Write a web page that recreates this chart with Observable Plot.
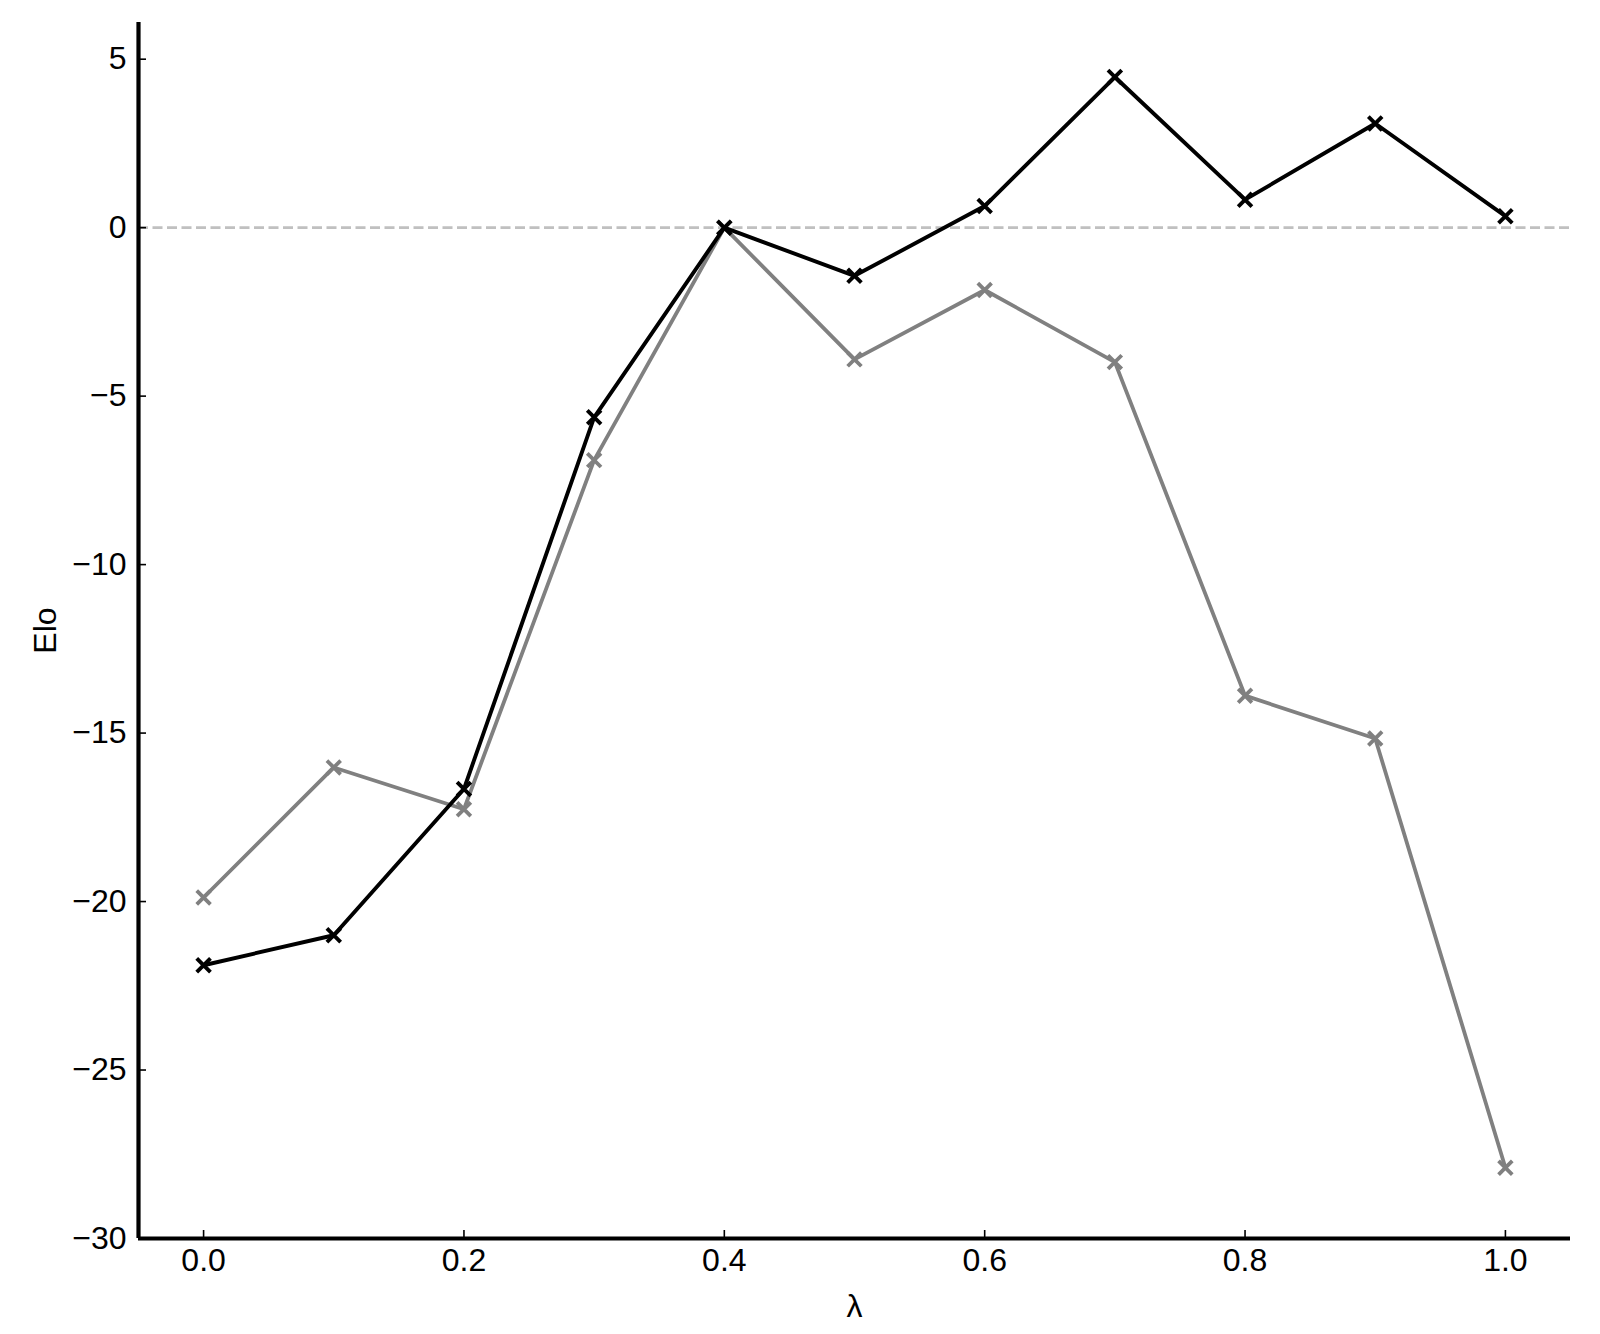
<!DOCTYPE html>
<html>
<head>
<meta charset="utf-8">
<script src="https://cdn.jsdelivr.net/npm/d3@7"></script>
<script src="https://cdn.jsdelivr.net/npm/@observablehq/plot@0.6"></script>
<style>
  html, body { margin: 0; padding: 0; background: #fff; }
</style>
</head>
<body>
<div id="chart"></div>
<script>
// λ values (x)
const lambdas = [0.0, 0.1, 0.2, 0.3, 0.4, 0.5, 0.6, 0.7, 0.8, 0.9, 1.0];
// black series
const seriesBlack = [-21.89, -21.0, -16.66, -5.63, 0.0, -1.43, 0.64, 4.47, 0.83, 3.09, 0.34];
// gray series
const seriesGray = [-19.88, -16.02, -17.26, -6.9, 0.0, -3.91, -1.85, -3.99, -13.89, -15.16, -27.9];

const xTicks = [0.0, 0.2, 0.4, 0.6, 0.8, 1.0];
const yTicks = [-30, -25, -20, -15, -10, -5, 0, 5];
const xLabel = "λ";
const yLabel = "Elo";

const xDomain = [-0.05, 1.05];
const allVals = seriesBlack.concat(seriesGray);
const yTop = d3.max(allVals) + 0.05 * (d3.max(allVals) - d3.min(allVals));
const yDomain = [-30, yTop];

const rowsBlack = lambdas.map((x, i) => ({x, y: seriesBlack[i]}));
const rowsGray = lambdas.map((x, i) => ({x, y: seriesGray[i]}));

const fmtY = d => (d < 0 ? "\u2212" + Math.abs(d) : String(d));
const fmtX = d => d.toFixed(1);

const chart = Plot.plot({
  width: 1600,
  height: 1334,
  marginLeft: 138,
  marginRight: 30,
  marginTop: 22,
  marginBottom: 96,
  style: {
    fontFamily: "'Liberation Sans', Arial, Helvetica, sans-serif",
    fontSize: "32px",
    color: "#000",
    background: "#fff"
  },
  x: {domain: xDomain},
  y: {domain: yDomain},
  marks: [
    Plot.ruleY([0], {stroke: "#c0c0c0", strokeWidth: 2.6, strokeDasharray: "10,4.5"}),
    Plot.line(rowsGray, {x: "x", y: "y", stroke: "#808080", strokeWidth: 3.8}),
    Plot.dot(rowsGray, {x: "x", y: "y", symbol: "times", r: 6.3, stroke: "#808080", strokeWidth: 3.8}),
    Plot.line(rowsBlack, {x: "x", y: "y", stroke: "#000", strokeWidth: 3.9}),
    Plot.dot(rowsBlack, {x: "x", y: "y", symbol: "times", r: 6.3, stroke: "#000", strokeWidth: 3.9}),
    Plot.axisX({ticks: xTicks, tickFormat: fmtX, tickSize: -8, tickPadding: 18, strokeWidth: 1.6, label: null, fontSize: 32}),
    Plot.axisY({ticks: yTicks, tickFormat: fmtY, tickSize: -8, tickPadding: 20, strokeWidth: 1.6, label: null, fontSize: 32}),
    Plot.ruleX([xDomain[0]], {stroke: "#000", strokeWidth: 4.2}),
    Plot.ruleY([yDomain[0]], {stroke: "#000", strokeWidth: 4.2}),
    Plot.text([xLabel], {frameAnchor: "bottom", lineAnchor: "bottom", dy: 78, fontSize: 32, fill: "#000"}),
    Plot.text([yLabel], {frameAnchor: "left", rotate: -90, lineAnchor: "middle", textAnchor: "middle", dx: -93, fontSize: 32, fill: "#000"})
  ]
});
document.getElementById("chart").appendChild(chart);
</script>
</body>
</html>
